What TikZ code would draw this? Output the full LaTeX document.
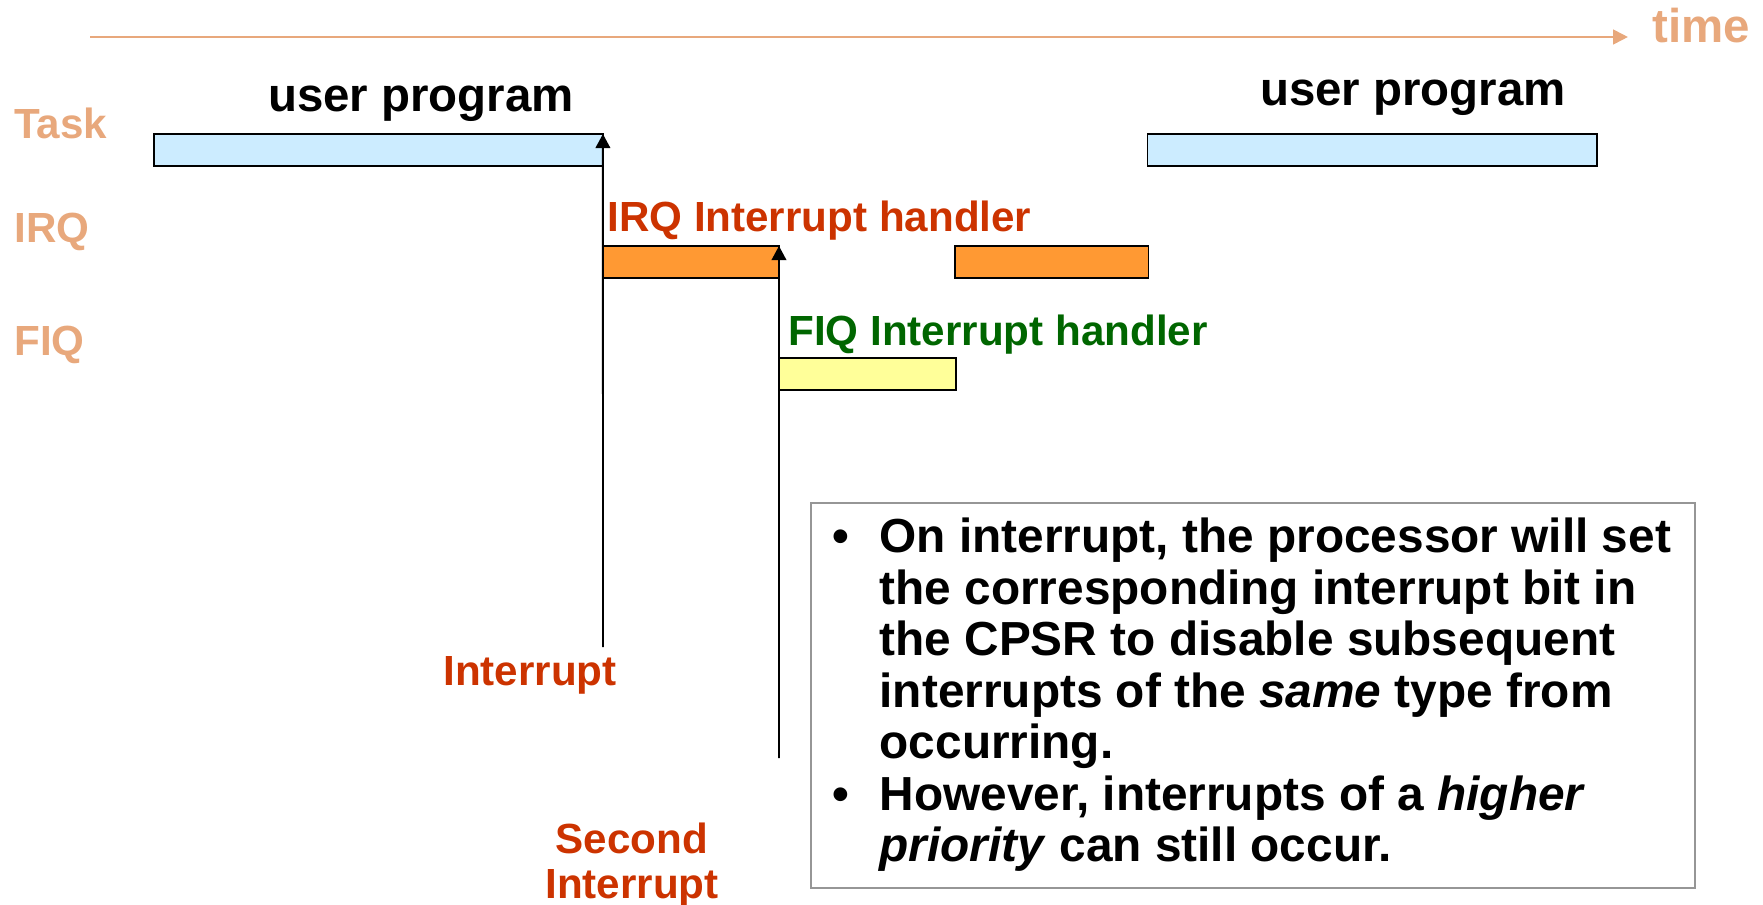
\documentclass[tikz,border=0pt]{standalone}
\usepackage{fontspec}
\setmainfont{Liberation Sans}
\usepackage{xcolor}
\usetikzlibrary{arrows.meta}

\definecolor{timeline}{RGB}{232,168,124}
\definecolor{taskblue}{RGB}{204,236,255}
\definecolor{irqorange}{RGB}{255,153,51}
\definecolor{fiqyellow}{RGB}{255,255,153}
\definecolor{irqred}{RGB}{204,51,0}
\definecolor{fiqgreen}{RGB}{0,102,0}
\definecolor{notegray}{RGB}{150,150,150}

\begin{document}
\begin{tikzpicture}[x=0.02cm,y=-0.02cm,
        slot/.style={draw,line width=1.1pt,inner sep=0pt,outer sep=0pt,minimum height=0.64cm,anchor=north west},
        lbl/.style={inner sep=0pt,font=\fontsize{24}{25.5}\selectfont\bfseries},
        big/.style={inner sep=0pt,font=\fontsize{27}{32}\selectfont\bfseries},
        hit/.style={line width=1.1pt,-{Triangle[width=8.3pt,length=8pt]}}]
        \useasboundingbox (0,0) rectangle (1763,905);

        \coordinate (t0) at (90,37);
        \coordinate (t1) at (1628,37);
        \draw[timeline,line width=1.5pt,-{Triangle[width=8.3pt,length=8.5pt]}] (t0) -- (t1);
        \node[big,timeline,anchor=base west] (time) at (1652,42.5) {time};
        \foreach \name/\y in {Task/139,IRQ/243,FIQ/355} \node[lbl,timeline,anchor=base west] (row\name) at (14,\y) {\name};

        \node[slot,fill=taskblue,minimum width=8.98cm] (user1) at (154,134) {};
        \node[slot,fill=taskblue,minimum width=8.99cm] (user2) at (1147.5,134) {};
        \node[slot,fill=irqorange,minimum width=3.52cm] (irq1) at (603,246) {};
        \node[slot,fill=irqorange,minimum width=3.87cm] (irq2) at (955,246) {};
        \node[slot,fill=fiqyellow,minimum width=3.54cm] (fiq) at (779,358) {};

        \node[big,anchor=base] (prog1) at (421,112) {user program};
        \node[big,anchor=base] (prog2) at (1413,106) {user program};
        \node[lbl,irqred,anchor=base west] (irqname) at (607,232) {IRQ Interrupt handler};
        \node[lbl,fiqgreen,anchor=base west] (fiqname) at (788,345) {FIQ Interrupt handler};
        \node[lbl,irqred,anchor=base] (int1) at (530,685) {Interrupt};
        \node[lbl,irqred,anchor=north,align=center] (int2) at (632,823) {Second\\Interrupt};

        \coordinate (irqsrc) at (603,647);
        \coordinate (fiqsrc) at (779,758);
        \draw[hit] (irqsrc) -- (user1.north east);
        \draw[hit] (fiqsrc) -- (irq1.north east);

        \node[draw=notegray,line width=1.1pt,inner sep=0pt,outer sep=0pt,anchor=north west,minimum width=17.69cm,minimum height=7.71cm] (note) at (811,502.7) {};
        \node[anchor=base west,inner sep=0pt,font=\fontsize{27.2}{29.3}\selectfont\bfseries] (points) at (832.6,552.7) {\begin{tabular}[t]{@{}l@{\hspace{0.6cm}}l@{}}
                \textbullet & On interrupt, the processor will set\\
                & the corresponding interrupt bit in\\
                & the CPSR to disable subsequent\\
                & interrupts of the \textit{same} type from\\
                & occurring.\\
                \textbullet & However, interrupts of a \textit{higher}\\
                & \textit{priority} can still occur.
            \end{tabular}};
\end{tikzpicture}
\end{document}
